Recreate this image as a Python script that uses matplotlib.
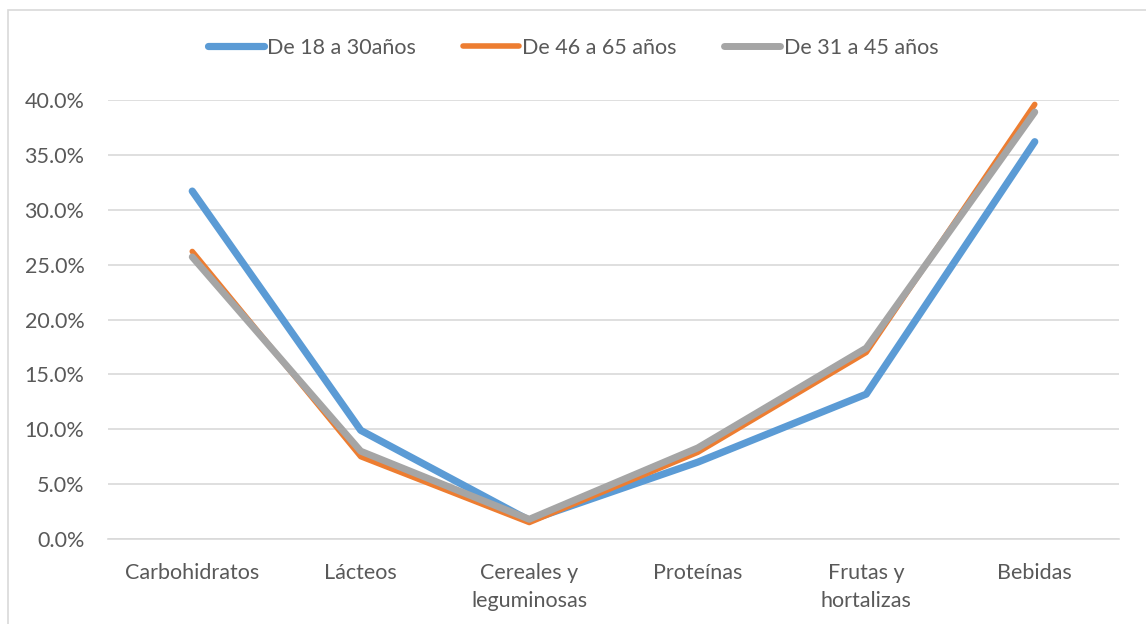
import matplotlib.pyplot as plt
from matplotlib.patches import Rectangle
from matplotlib.ticker import PercentFormatter

# categorias de alimentos y porcentaje por grupo de edad
categorias = ["Carbohidratos", "Lácteos", "Cereales y\nleguminosas", "Proteínas",
              "Frutas y\nhortalizas", "Bebidas"]
edad_18_30 = [0.317, 0.099, 0.017, 0.070, 0.132, 0.362]
edad_46_65 = [0.262, 0.075, 0.015, 0.079, 0.170, 0.396]
edad_31_45 = [0.257, 0.080, 0.018, 0.083, 0.174, 0.389]
nombres = ["De 18 a 30años", "De 46 a 65 años", "De 31 a 45 años"]

plt.rcParams['font.family'] = ['Lato', 'DejaVu Sans']
gris_texto = "#595959"
tam = 15.5

fig = plt.figure(figsize=(11.46, 6.24), dpi=100)
# marco del grafico
fig.patches.append(Rectangle((8 / 1146, -0.1), 1.2, 1 - 10 / 624 + 0.1,
                             transform=fig.transFigure, fill=False,
                             edgecolor="#d9d9d9", linewidth=1.2))

ax = fig.add_axes([108 / 1146, 1 - 539 / 624, (1119 - 108) / 1146, (539 - 100) / 624])
x = list(range(len(categorias)))

ax.plot(x, edad_18_30, color="#5B9BD5", lw=5.2, solid_capstyle="round",
        solid_joinstyle="round", label=nombres[0])
ax.plot(x, edad_46_65, color="#ED7D31", lw=4.0, solid_capstyle="round",
        solid_joinstyle="round", label=nombres[1])
ax.plot(x, edad_31_45, color="#A5A5A5", lw=5.0, solid_capstyle="round",
        solid_joinstyle="round", label=nombres[2])

ax.set_xlim(-0.5, len(categorias) - 0.5)
ax.set_ylim(0, 0.40)
ax.set_yticks([i * 0.05 for i in range(9)])
ax.yaxis.set_major_formatter(PercentFormatter(1.0, decimals=1))
ax.set_xticks(x)
ax.set_xticklabels(categorias, linespacing=1.55)
ax.grid(axis="y", color="#d9d9d9", linewidth=1.2)
ax.set_axisbelow(True)
for s in ax.spines.values():
    s.set_visible(False)
ax.spines["bottom"].set_visible(True)
ax.spines["bottom"].set_color("#d9d9d9")
ax.spines["bottom"].set_linewidth(1.2)
ax.tick_params(length=0, labelsize=tam, labelcolor=gris_texto)
ax.tick_params(axis="y", pad=17)
ax.tick_params(axis="x", pad=17)

leg = fig.legend(loc="center", bbox_to_anchor=(0.5, 1 - 48 / 624), ncol=3,
                 frameon=False, fontsize=tam, handlelength=2.6, handletextpad=0.15,
                 columnspacing=2.2, labelcolor=gris_texto)
for h in leg.legend_handles:
    h.set_solid_capstyle("round")

fig.savefig("out.png", dpi=100)
